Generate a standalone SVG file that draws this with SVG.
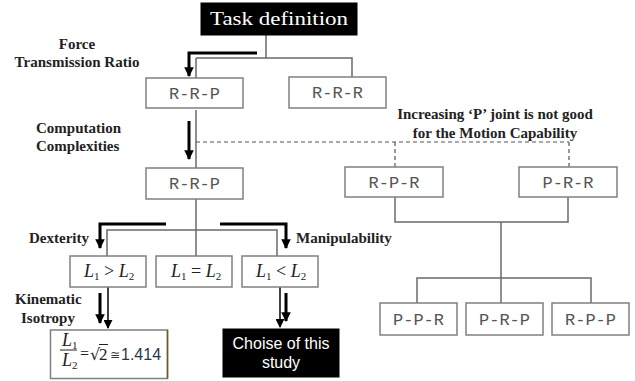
<svg xmlns="http://www.w3.org/2000/svg" width="635" height="381" viewBox="0 0 635 381">
<defs>
<marker id="thick" viewBox="0 0 10 10" refX="9" refY="5" markerWidth="3.2" markerHeight="3.2" orient="auto" markerUnits="strokeWidth"><path d="M0,0 L10,5 L0,10 z" fill="#000"/></marker>
<marker id="thin" viewBox="0 0 10 10" refX="9" refY="5" markerWidth="6" markerHeight="6" orient="auto" markerUnits="strokeWidth"><path d="M0,0 L10,5 L0,10 z" fill="#000"/></marker>
</defs>
<style>
.box{fill:#fff;stroke:#808080;stroke-width:1.5}
.blk{fill:#000;stroke:#000}
.mono{font-family:"Liberation Mono","DejaVu Sans Mono",monospace;font-size:17px;fill:#555;text-anchor:middle}
.lbl{font-family:"Liberation Serif","Times New Roman",serif;font-weight:bold;font-size:15px;fill:#222}
.math{font-family:"Liberation Serif","Times New Roman",serif;font-style:italic;font-size:18px;fill:#222}
.sub{font-size:11px;font-style:normal}
.wt{font-family:"Liberation Serif","Times New Roman",serif;font-size:19px;fill:#fff;text-anchor:middle}
.ws{font-family:"Liberation Sans",Arial,sans-serif;font-size:16px;fill:#fff;text-anchor:middle}
.ln{fill:none;stroke:#6a6a6a;stroke-width:1.5}
.dash{fill:none;stroke:#555;stroke-width:1.2;stroke-dasharray:4 3}
.thk{fill:none;stroke:#000;stroke-width:3;marker-end:url(#thick)}
.thn{fill:none;stroke:#000;stroke-width:1.5;marker-end:url(#thin)}
</style>
<rect width="635" height="381" fill="#fff"/>
<g id="connectors">
<path class="ln" d="M266,35 V58 M196,58 H352 V77 M196,58 V78"/>
<path class="ln" d="M196,110 V168"/>
<path class="dash" d="M196,142 H569 M395,142 V167 M569,142 V167"/>
<path class="ln" d="M196,199 V256 M107,256 V230 H277 V256"/>
<path class="ln" d="M395,197 V222 H568 V197 M501,222 V303 M417,303 V278 H591 V303"/>
<path class="thk" d="M257,53 H189 V76"/>
<path class="thk" d="M189,121 V159"/>
<path class="thk" d="M166,224 H100 V248"/>
<path class="thk" d="M220,224 H286 V248"/>
<path class="thk" d="M100,293 V323"/>
<path class="thn" d="M108,287 V328"/>
<path class="thk" d="M286,293 V321"/>
<path class="thn" d="M280,287 V327"/>
</g>
<g id="task">
<rect class="blk" x="201" y="3" width="156" height="32"/>
<text class="wt" x="279" y="25" textLength="138" lengthAdjust="spacingAndGlyphs">Task definition</text>
</g>
<g id="rrp1"><rect class="box" x="146" y="78" width="97" height="30"/><text class="mono" x="194.5" y="99">R-R-P</text></g>
<g id="rrr"><rect class="box" x="289" y="77" width="97" height="31"/><text class="mono" x="337.5" y="98">R-R-R</text></g>
<g id="rrp2"><rect class="box" x="146" y="168" width="97" height="31"/><text class="mono" x="194.5" y="189">R-R-P</text></g>
<g id="rpr"><rect class="box" x="345" y="167" width="98" height="30"/><text class="mono" x="394" y="188">R-P-R</text></g>
<g id="prr"><rect class="box" x="519" y="167" width="98" height="30"/><text class="mono" x="568" y="188">P-R-R</text></g>
<g id="ppr"><rect class="box" x="380" y="303" width="77" height="32"/><text class="mono" x="418.5" y="325">P-P-R</text></g>
<g id="prp"><rect class="box" x="466" y="303" width="77" height="32"/><text class="mono" x="504.5" y="325">P-R-P</text></g>
<g id="rpp"><rect class="box" x="552" y="303" width="77" height="32"/><text class="mono" x="590.5" y="325">R-P-P</text></g>
<g id="l1gtl2"><rect class="box" x="70" y="256" width="76" height="31"/><text class="math" x="84" y="277">L<tspan class="sub" dy="3">1</tspan><tspan dy="-3" font-style="normal"> &gt; </tspan>L<tspan class="sub" dy="3">2</tspan></text></g>
<g id="l1eql2"><rect class="box" x="156" y="256" width="76" height="31"/><text class="math" x="171" y="277">L<tspan class="sub" dy="3">1</tspan><tspan dy="-3" font-style="normal"> = </tspan>L<tspan class="sub" dy="3">2</tspan></text></g>
<g id="l1ltl2"><rect class="box" x="242" y="256" width="76" height="31"/><text class="math" x="256" y="277">L<tspan class="sub" dy="3">1</tspan><tspan dy="-3" font-style="normal"> &lt; </tspan>L<tspan class="sub" dy="3">2</tspan></text></g>
<g id="formula">
<rect class="box" x="50.5" y="330" width="117" height="48.5"/>
<line x1="167.5" y1="330" x2="167.5" y2="378.5" stroke="#6b5a2a" stroke-width="1.5"/>
<text class="math" x="62" y="346" font-size="15">L<tspan class="sub" dy="3" font-size="10">1</tspan></text>
<line x1="60" y1="350" x2="77" y2="350" stroke="#222" stroke-width="1"/>
<text class="math" x="62" y="366" font-size="15">L<tspan class="sub" dy="3" font-size="10">2</tspan></text>
<text x="80" y="359" font-family="Liberation Serif,serif" font-size="16" fill="#222">=</text>
<text x="90" y="360" font-family="DejaVu Sans,sans-serif" font-size="16" fill="#222">√</text>
<line x1="99" y1="344.5" x2="108" y2="344.5" stroke="#222" stroke-width="1"/>
<text x="99" y="360" font-family="Liberation Serif,serif" font-size="17" fill="#222">2</text>
<text x="110" y="359" font-family="DejaVu Sans,sans-serif" font-size="12" fill="#333">≅</text>
<text x="121" y="360" font-family="Liberation Sans,sans-serif" font-size="16" fill="#2a3550">1.414</text>
</g>
<g id="choice">
<rect class="blk" x="223" y="329" width="116" height="48"/>
<text class="ws" x="281" y="349">Choise of this</text>
<text class="ws" x="281" y="368">study</text>
</g>
<g id="labels">
<text class="lbl" x="77" y="49" text-anchor="middle">Force</text>
<text class="lbl" x="77" y="67" text-anchor="middle" textLength="125">Transmission Ratio</text>
<text class="lbl" x="36" y="133">Computation</text>
<text class="lbl" x="36" y="151">Complexities</text>
<text class="lbl" x="495" y="119" text-anchor="middle">Increasing ‘P’ joint is not good</text>
<text class="lbl" x="495" y="138" text-anchor="middle">for the Motion Capability</text>
<text class="lbl" x="29" y="243">Dexterity</text>
<text class="lbl" x="296" y="243">Manipulability</text>
<text class="lbl" x="15" y="304">Kinematic</text>
<text class="lbl" x="21" y="323">Isotropy</text>
</g>
</svg>
